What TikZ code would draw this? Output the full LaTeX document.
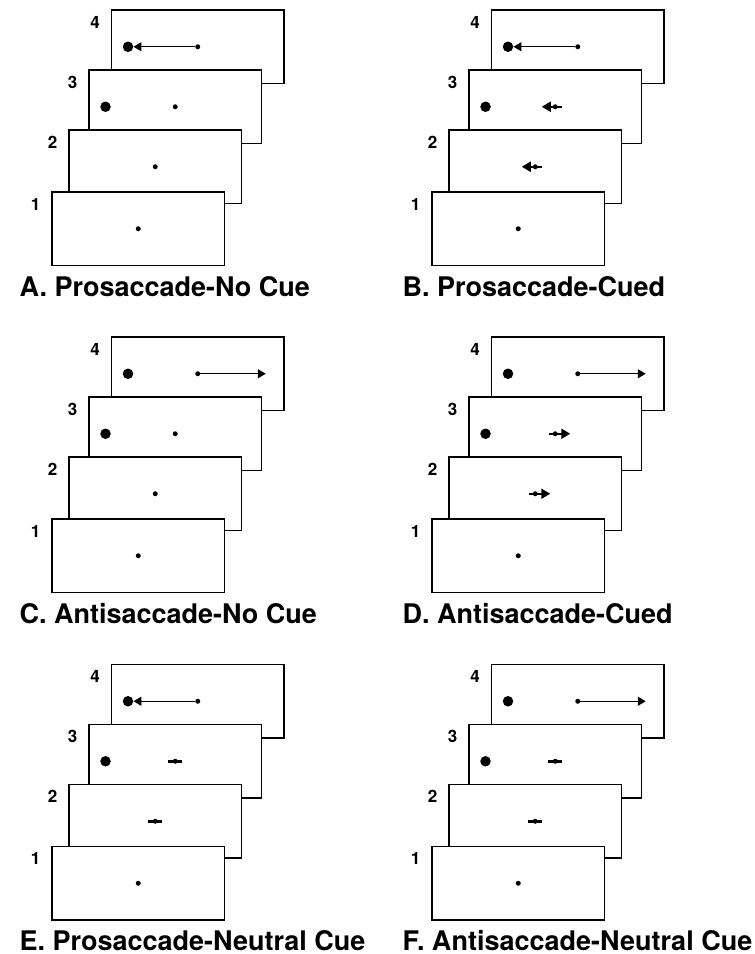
\documentclass[tikz,border=0pt]{standalone}
\usepackage{fontspec}
\setmainfont{TeX Gyre Heros}
\usetikzlibrary{arrows.meta}
\tikzset{
	screen/.style     = {draw, fill=white, line width=1.8pt, rectangle, anchor=north west,
		minimum width=172.5pt, minimum height=73.5pt, inner sep=0pt, outer sep=0pt},
	fixdot/.style     = {circle, fill=black, inner sep=0pt, minimum size=5pt},
	targetdot/.style  = {circle, fill=black, inner sep=0pt, minimum size=10.5pt},
	num/.style        = {font=\fontsize{17}{17}\selectfont\bfseries},
	paneltitle/.style = {anchor=base west, font=\fontsize{27}{28}\selectfont\bfseries},
	saccade/.style    = {line width=1.4pt, -{Triangle[length=8pt, width=9pt]}},
	cue/.style        = {line width=2pt, -{Triangle[length=9pt, width=10pt]}},
	neutral/.style    = {line width=3pt}
}
% contents of screens 2 and 3
\newcommand{\nocue}[1]{\node[fixdot] (#1-f) at (#1.center) {};}
\newcommand{\cueleft}[1]{
	\coordinate (#1-a) at ([xshift=6.5pt]#1.center);
	\coordinate (#1-b) at ([xshift=-13.5pt]#1.center);
	\draw[cue] (#1-a) -- (#1-b);
	\node[fixdot] (#1-f) at (#1.center) {};}
\newcommand{\cueright}[1]{
	\coordinate (#1-a) at ([xshift=-6pt]#1.center);
	\coordinate (#1-b) at ([xshift=15pt]#1.center);
	\draw[cue] (#1-a) -- (#1-b);
	\node[fixdot] (#1-f) at (#1.center) {};}
\newcommand{\cueneutral}[1]{
	\coordinate (#1-a) at ([xshift=-7pt]#1.center);
	\coordinate (#1-b) at ([xshift=7pt]#1.center);
	\draw[neutral] (#1-a) -- (#1-b);
	\node[fixdot] (#1-f) at (#1.center) {};}
% saccade in screen 4
\newcommand{\prosacc}[1]{
	\node[fixdot] (#1-f) at (#1.center) {};
	\draw[saccade] (#1-f) -- (#1-t);}
\newcommand{\antisacc}[1]{
	\node[fixdot] (#1-f) at (#1.center) {};
	\coordinate (#1-e) at ([xshift=68pt]#1.center);
	\draw[saccade] (#1-f) -- (#1-e);}
% x, y of screen 1, name, cue, saccade
\newcommand{\panel}[5]{
	\foreach \k/\dx/\dy in {4/59.5/182, 3/37/122, 2/17/62, 1/0/0}{
		\node[screen] (#3-\k) at (#1+\dx, #2-\dy) {};
		\node[num] at ([shift={(-16.5pt,-12pt)}]#3-\k.north west) {\k};
	}
	\node[targetdot] (#3-4-t) at ([xshift=16.5pt]#3-4.west) {};
	\node[targetdot] (#3-3-t) at ([xshift=16.5pt]#3-3.west) {};
	#4{#3-3}
	#4{#3-2}
	\nocue{#3-1}
	#5{#3-4}
}

\begin{document}
\begin{tikzpicture}[x=1pt, y=-1pt]
	\useasboundingbox (0,0) rectangle (755,954);
	
	\panel{52}{192}{A}{\nocue}{\prosacc}
	\panel{432}{192}{B}{\cueleft}{\prosacc}
	\panel{52}{519}{C}{\nocue}{\antisacc}
	\panel{432}{519}{D}{\cueright}{\antisacc}
	\panel{52}{846.5}{E}{\cueneutral}{\prosacc}
	\panel{432}{846.5}{F}{\cueneutral}{\antisacc}
	
	\draw
	node[paneltitle] (tA) at (16,296) {A. Prosaccade-No Cue}
	node[paneltitle] (tB) at (399,296) {B. Prosaccade-Cued}
	node[paneltitle] (tC) at (16,623) {C. Antisaccade-No Cue}
	node[paneltitle] (tD) at (399,623) {D. Antisaccade-Cued}
	node[paneltitle] (tE) at (16,950) {E. Prosaccade-Neutral Cue}
	node[paneltitle] (tF) at (399,950) {F. Antisaccade-Neutral Cue};
\end{tikzpicture}
\end{document}
